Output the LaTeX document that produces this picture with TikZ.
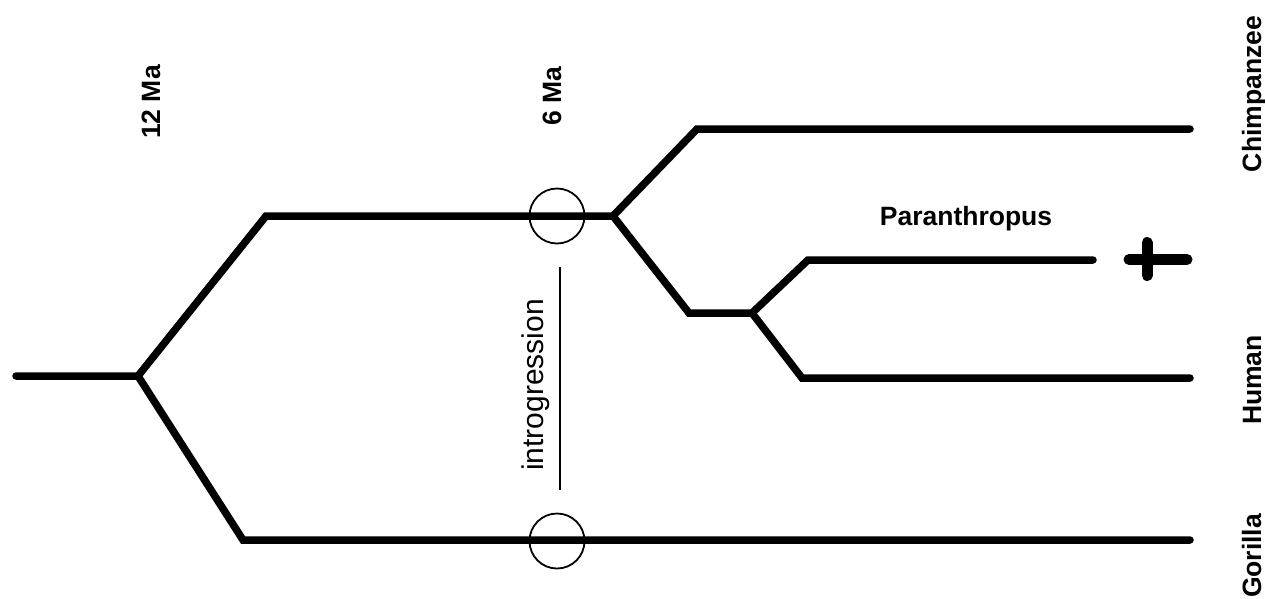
\documentclass[tikz,border=0pt]{standalone}
\usepackage{fontspec}
\setmainfont{Liberation Sans}
\begin{document}
\begin{tikzpicture}[x=1pt,y=-1pt,
  branch/.style={line width=7.5pt,line join=miter,line cap=round},
  crossbar/.style={line width=11pt,line cap=round},
  thinbar/.style={draw,line width=1.8pt},
  ring/.style={draw,line width=1.8pt,circle,minimum size=55pt,inner sep=0pt},
  lbl/.style={font=\bfseries\fontsize{26.5}{30}\selectfont,inner sep=0pt},
  vlbl/.style={lbl,rotate=90,anchor=base},
  ilbl/.style={font=\fontsize{30}{34}\selectfont,inner sep=0pt,rotate=90,anchor=base}]
\useasboundingbox (0,0) rectangle (1265,598);
% tree points
\coordinate (root) at (16,376);
\coordinate (n12) at (138,376);
\coordinate (a1) at (266,216);
\coordinate (n6) at (613,216);
\coordinate (g1) at (243,540);
\coordinate (gor) at (1190,540);
\coordinate (c1) at (697,129);
\coordinate (chi) at (1190,129);
\coordinate (h1) at (689,313);
\coordinate (nh) at (752,313);
\coordinate (p1) at (808,260);
\coordinate (par) at (1093,260);
\coordinate (hu1) at (802,378);
\coordinate (hum) at (1190,378);
% branches
\draw[branch] (root) -- (n12) -- (a1) -- (n6) -- (c1) -- (chi);
\draw[branch] (n12) -- (g1) -- (gor);
\draw[branch] (n6) -- (h1) -- (nh) -- (p1) -- (par);
\draw[branch] (nh) -- (hu1) -- (hum);
% extinction cross
\coordinate (xl) at (1129,259.5);
\coordinate (xr) at (1187,259.5);
\coordinate (xt) at (1147,242.5);
\coordinate (xb) at (1147,275.5);
\draw[crossbar] (xl) -- (xr);
\draw[crossbar] (xt) -- (xb);
% introgression rings and bar
\node[ring] (r1) at (557,216) {};
\node[ring] (r2) at (557,541) {};
\coordinate (it) at (560,267);
\coordinate (ib) at (560,490);
\draw[thinbar] (it) -- (ib);
% labels
\node[vlbl] (t12) at (160,102) {12 Ma};
\node[vlbl] (t6) at (561,96) {6 Ma};
\node[ilbl] (tin) at (543,385) {introgression};
\node[lbl,anchor=base] (tpar) at (966,225) {Paranthropus};
\node[vlbl] (tchi) at (1261,94) {Chimpanzee};
\node[vlbl] (thum) at (1261,380) {Human};
\node[vlbl] (tgor) at (1261,556) {Gorilla};
\end{tikzpicture}
\end{document}
